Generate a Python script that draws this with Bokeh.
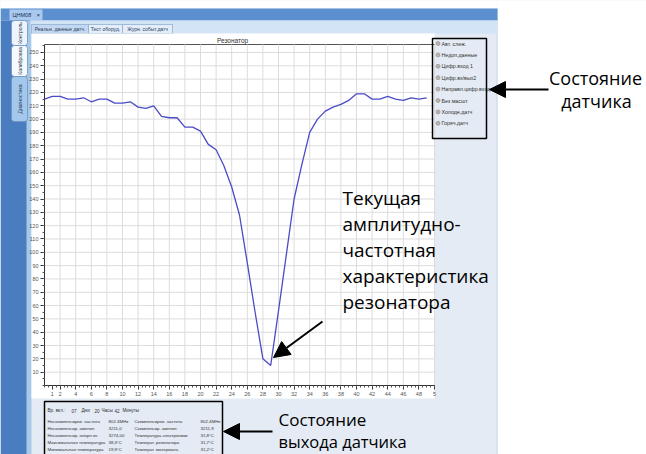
import math
from bokeh.plotting import figure
from bokeh.models import (Range1d, FixedTicker, BoxAnnotation, Label, Arrow, NormalHead, LinearAxis)
from bokeh.embed import file_html
from bokeh.resources import INLINE

# ---------------- data ----------------
step = list(range(0, 50))
amplitude = [215, 217, 217, 215, 215, 216, 213, 215, 215, 212,
             212, 213, 209, 208, 210, 202, 201, 201, 194, 194,
             191, 181, 177, 165, 149, 128, 92, 55, 20, 15,
             56, 98, 140, 166, 190, 200, 206, 209, 211, 214,
             219, 219, 215, 215, 217, 215, 214, 216, 215, 216]
x_limits = (0, 50)
y_limits = (0, 256)
y_ticks = list(range(10, 251, 10))
x_ticks = [1] + list(range(2, 49, 2)) + [50]
x_grid = list(range(0, 51, 2))
x_tick_overrides = {50: "5"}
chart_title = "Резонатор"
window_tab = "ЦНМ08"
side_tabs = ["Контроль", "Калибровка", "Диагностика"]
top_tabs = ["Реальн. данные датч.", "Тест оборуд.", "Журн. событ.датч"]
status_flags = ["Авт. слеж.", "Недоп.данные", "Цифр.вход 1", "Цифр.вх/вых2",
                "Направл.цифр.вход", "Без масшт", "Холодн.датч", "Горяч.датч"]
uptime = ["Вр. вкл.:", "07", "Дни", "20", "Часы", "42", "Минуты"]
out_names_1 = ["Нескомпенсиров. частота", "Нескомпенсир. амплит.", "Нескомпенсир. опорн.зн.",
               "Максимальная температура", "Минимальная температура"]
out_values_1 = ["802.4MHz", "3211,0", "3274,00", "38,3°C", "19,9°C"]
out_names_2 = ["Скомпенсиров. частота", "Скомпенсир. амплит.", "Температура электроники",
               "Температ. резонатора", "Температ. материала"]
out_values_2 = ["802.4MHz", "3211,9", "31,8°C", "31,7°C", "31,2°C"]
note_sensor = ["Состояние", "датчика"]
note_curve = ["Текущая", "амплитудно-", "частотная", "характеристика", "резонатора"]
note_output = ["Состояние", "выхода датчика"]

# ---------------- layout (page pixels) ----------------
W, H = 646, 454
FL, FR, FT, FB = 44, 434, 44, 385   # chart plot area on the page

p = figure(width=W, height=H, output_backend="svg", toolbar_location=None, title=None,
           x_range=Range1d(0, W), y_range=Range1d(H, 0),
           x_axis_location=None, y_axis_location=None, min_border=0)
p.grid.visible = False
p.outline_line_color = None
p.border_fill_color = "white"
p.background_fill_color = "#e4ebf4"

# chart ranges: map chart values onto the plot area inside the full-page frame
kx = (x_limits[1] - x_limits[0]) / (FR - FL)
ky = (y_limits[1] - y_limits[0]) / (FB - FT)
p.extra_x_ranges = {"cx": Range1d(x_limits[0] - FL * kx, x_limits[0] + (W - FL) * kx)}
p.extra_y_ranges = {"cy": Range1d(y_limits[0] - (H - FB) * ky, y_limits[0] + FB * ky)}


def box(l, t, r, b, fill, line=None, lw=1.0, level="image", radius=0, xr="default", yr="default"):
    p.add_layout(BoxAnnotation(left=l, right=r, top=t, bottom=b,
                               x_range_name=xr, y_range_name=yr,
                               fill_color=fill, fill_alpha=1.0 if fill else 0.0,
                               line_color=line, line_width=lw, line_alpha=1.0 if line else 0.0,
                               level=level, border_radius=radius))


def text(x, y, s, size, color="#222222", font="Liberation Sans", align="left",
         baseline="middle", angle=0.0, level="annotation"):
    p.add_layout(Label(x=x, y=y, text=s,
                       text_font=font, text_font_size=f"{size}px", text_color=color,
                       text_align=align, text_baseline=baseline, angle=angle, level=level))


def arrow(x0, y0, x1, y1, head=16, lw=2):
    p.add_layout(Arrow(end=NormalHead(size=head, fill_color="black", line_color="black"),
                       x_start=x0, y_start=y0, x_end=x1, y_end=y1,
                       line_color="black", line_width=lw))


# right white page area
box(497, -5, W + 5, H + 5, "white")
box(496, 8, 497, H + 5, "#c9d6e6")
# top white strip
box(-5, -5, 497, 8, "white")
# title bar
box(0, 8, 497, 20, "#5b8fd0")
box(9, 9, 42, 20, "#a9c9ee")
text(12, 14.5, window_tab, 5.5, color="#1d2f55")
text(36, 14.5, "×", 6, color="#1d2f55")
# left sidebar
box(0, 20, 30, H + 5, "#4a7dbf")
box(26, 20, 31, H + 5, "#a6c9ea")
tab_spans = [(20, 45, "#eef4fb"), (45, 76, "#f7fafd"), (76, 121, "#a3c8ec")]
for (t0, t1, col), name in zip(tab_spans, side_tabs):
    box(11, t0, 27, t1, col, line="#6f93c2", lw=0.8, radius=3)
    text(19.5, (t0 + t1) / 2, name, 5, color="#2a3b5a", align="center", angle=math.pi / 2)
# top tabs strip
box(30, 20, 497, 33, "#d3e4f6")
tab_x = [(31, 88), (88, 122), (122, 172)]
for i, ((x0, x1), name) in enumerate(zip(tab_x, top_tabs)):
    box(x0, 24, x1, 33, "#c2d8f0" if i == 0 else "#e3eefa", line="#8aa8cc", lw=0.7)
    text((x0 + x1) / 2, 28.8, name, 5, color="#2a3b5a", align="center")
# white chart panel
box(31, 33, FR, 398, "white")
text(232, 39.5, chart_title, 6.5, color="#333333", align="center")

# ---------------- chart ----------------
p.segment(x0=x_grid, y0=[y_limits[0]] * len(x_grid), x1=x_grid, y1=[y_limits[1]] * len(x_grid),
          line_color="#dcdcdc", line_width=1, x_range_name="cx", y_range_name="cy")
p.segment(x0=[x_limits[0]] * len(y_ticks), y0=y_ticks, x1=[x_limits[1]] * len(y_ticks), y1=y_ticks,
          line_color="#dcdcdc", line_width=1, x_range_name="cx", y_range_name="cy")
box(x_limits[0], y_limits[1], x_limits[1], y_limits[0], None, line="#555555", lw=1,
    level="underlay", xr="cx", yr="cy")
p.line(step, amplitude, line_color="#4b4bc8", line_width=1.3, x_range_name="cx", y_range_name="cy")

xaxis = LinearAxis(x_range_name="cx", y_range_name="cy", fixed_location=y_limits[0], bounds=x_limits,
                   ticker=FixedTicker(ticks=x_ticks, minor_ticks=[i * 0.5 for i in range(0, 101)]),
                   major_label_overrides=x_tick_overrides)
yaxis = LinearAxis(x_range_name="cx", y_range_name="cy", fixed_location=x_limits[0], bounds=y_limits,
                   ticker=FixedTicker(ticks=y_ticks, minor_ticks=list(range(0, 256, 5))))
for ax in (xaxis, yaxis):
    ax.axis_line_color = "#333333"
    ax.major_tick_line_color = "#333333"
    ax.minor_tick_line_color = "#555555"
    ax.major_tick_out = 4
    ax.major_tick_in = 0
    ax.minor_tick_out = 2
    ax.minor_tick_in = 0
    ax.major_label_text_font_size = "5.5px"
    ax.major_label_text_color = "#555555"
    ax.major_label_text_font = "Liberation Sans"
    ax.major_label_standoff = 2
p.add_layout(xaxis, "below")
p.add_layout(yaxis, "left")

# ---------------- sensor status panel ----------------
for i, name in enumerate(status_flags):
    y = 43 + i * 11.4
    box(435.5, y - 2, 439.5, y + 2, "#bdb2b2", line="#8c8c8c", lw=0.6, level="annotation", radius=2)
    text(441, y, name, 5.3, color="#333333")
box(432, 38, 486, 138, None, line="black", lw=1.5, level="overlay")

# ---------------- output panel ----------------
box(44, 401, 222, H + 5, None, line="black", lw=1.5, level="overlay")
hx = [47, 71, 81, 94, 101, 114, 122]
for x, s in zip(hx, uptime):
    text(x, 410, s, 4.6, color="#333333")
for i in range(5):
    y = 421 + i * 7
    text(47, y, out_names_1[i], 4.4, color="#333333")
    text(108, y, out_values_1[i], 4.4, color="#333333")
    text(134, y, out_names_2[i], 4.4, color="#333333")
    text(200, y, out_values_2[i], 4.4, color="#333333")

# ---------------- annotations ----------------
BIG = "Open Sans"
text(595, 77, note_sensor[0], 18, color="black", font=BIG, align="center")
text(596, 100, note_sensor[1], 18, color="black", font=BIG, align="center")
arrow(548, 89, 489, 89)

for i, s in enumerate(note_curve):
    text(342, 197 + i * 26, s, 19, color="black", font=BIG)
arrow(322, 321, 273, 357)

text(278, 419, note_output[0], 17, color="black", font=BIG)
text(278, 441, note_output[1], 16.5, color="black", font=BIG)
arrow(272, 431, 223, 431)

open("out.html", "w").write(file_html(p, INLINE))
